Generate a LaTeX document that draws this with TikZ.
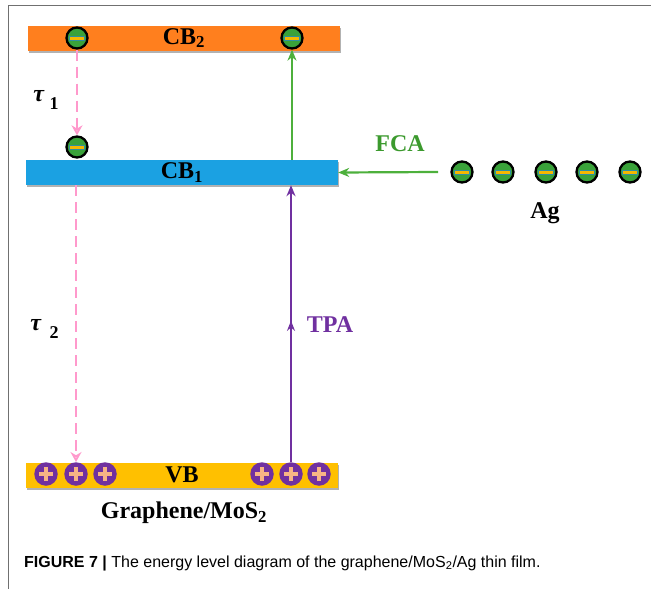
\documentclass[tikz,border=0pt]{standalone}
\usepackage{fontspec}
\setmainfont{Liberation Serif}
\newfontfamily\capfont{Liberation Sans}
\usetikzlibrary{arrows.meta,shadows,decorations.markings}
\definecolor{cbtwo}{HTML}{FF7F1E}
\definecolor{cbone}{HTML}{1BA1E2}
\definecolor{vbcol}{HTML}{FFC000}
\definecolor{egreen}{HTML}{3AA23A}
\definecolor{ebar}{HTML}{F5B800}
\definecolor{eteal}{HTML}{2E8FA0}
\definecolor{agreen}{HTML}{4DB03C}
\definecolor{ftext}{HTML}{3C9A2E}
\definecolor{hpurple}{HTML}{7030A0}
\definecolor{peach}{HTML}{F8B485}
\definecolor{pinkc}{HTML}{FF99CC}
\definecolor{framec}{HTML}{707070}
\tikzset{
  bar/.style={minimum width=312pt, minimum height=25pt, inner sep=0pt,
    font=\fontsize{24}{24}\selectfont\bfseries,
    drop shadow={shadow xshift=1pt, shadow yshift=-2pt, opacity=0.3, fill=black}},
  elec/.style={circle, minimum size=21pt, inner sep=0pt, draw=black, line width=2.3pt, fill=egreen,
    path picture={\fill[ebar, draw=eteal, line width=0.8pt]
      ([xshift=-7.5pt,yshift=-2pt]path picture bounding box.center) rectangle
      ([xshift=7.5pt,yshift=2pt]path picture bounding box.center);}},
  hole/.style={circle, minimum size=23.5pt, inner sep=0pt, fill=hpurple,
    path picture={\draw[peach, line width=3.6pt]
      ([xshift=-7pt]path picture bounding box.center) -- ([xshift=7pt]path picture bounding box.center)
      ([yshift=-7pt]path picture bounding box.center) -- ([yshift=7pt]path picture bounding box.center);}},
  lbl/.style={font=\fontsize{24}{24}\selectfont\bfseries},
  taulbl/.style={font=\fontsize{24}{24}\selectfont\bfseries},
  numlbl/.style={font=\fontsize{18}{18}\selectfont\bfseries},
  pinkdash/.style={draw=pinkc, line width=2.2pt, dash pattern=on 11pt off 6pt, -{Stealth[length=10pt,width=11pt,open,fill=none,line width=2pt]}},
  garrow/.style={draw=agreen, line width=2.2pt, -{Stealth[length=11pt,width=9pt]}},
  parrow/.style={draw=hpurple, line width=2.2pt, -{Stealth[length=11pt,width=9pt]},
    postaction={decorate}, decoration={markings, mark=at position 0.51 with {\arrow{Stealth[length=10pt,width=8pt]}}}},
}
\begin{document}
\begin{tikzpicture}[x=1pt,y=-1pt]
\useasboundingbox (0,0) rectangle (651,589);
\fill[white] (0,0) rectangle (651,589);
% frame
\draw[framec, line width=1pt] (8,589) -- (8,5) -- (651,5);
% bars
\node[bar, fill=cbtwo] (cb2) at (184,38) {CB\textsubscript{2}};
\node[bar, fill=cbone] (cb1) at (182,172.5) {CB\textsubscript{1}};
\node[bar, fill=vbcol] (vb) at (182,475) {VB};
% electrons
\node[elec] (e1) at (77,38) {};
\node[elec] (e2) at (292,38) {};
\node[elec] (e3) at (77,147) {};
\node[elec] (a1) at (462,172) {};
\node[elec] (a2) at (503,172) {};
\node[elec] (a3) at (546,172) {};
\node[elec] (a4) at (587,172) {};
\node[elec] (a5) at (630,172) {};
% holes
\node[hole] (h1) at (46,474) {};
\node[hole] (h2) at (76,474) {};
\node[hole] (h3) at (105,474) {};
\node[hole] (h4) at (262,474) {};
\node[hole] (h5) at (291,474) {};
\node[hole] (h6) at (319,474) {};
% relaxation arrows
\draw[pinkdash] (e1.south) -- (e3.north);
\draw[pinkdash] (cb1.south -| h2) -- (h2.north);
% TPA, excitation
\draw[parrow] (h5.north) -- (cb1.south -| h5);
\draw[garrow] (cb1.north -| e2) -- (e2.south);
% FCA
\coordinate (fcas) at (438,172);
\draw[garrow] (fcas) -- (cb1.east);
% labels
\node[taulbl] (t1) at (39,96) {\textit{τ}};
\node[numlbl] (t1n) at (54,104) {1};
\node[taulbl] (t2) at (36,325) {\textit{τ}};
\node[numlbl] (t2n) at (54,333) {2};
\node[lbl, text=ftext] (fca) at (400,144) {FCA};
\node[lbl, text=hpurple] (tpa) at (330,325) {TPA};
\node[lbl] (ag) at (545,213) {Ag};
\node[lbl] (gm) at (184,513) {Graphene/MoS\textsubscript{2}};
% caption
\node[anchor=west, inner sep=0pt, font=\capfont\fontsize{16}{16}\selectfont] (cap) at (24,563)
  {\textbf{FIGURE 7 |} The energy level diagram of the graphene/MoS\textsubscript{2}/Ag thin film.};
\end{tikzpicture}
\end{document}
